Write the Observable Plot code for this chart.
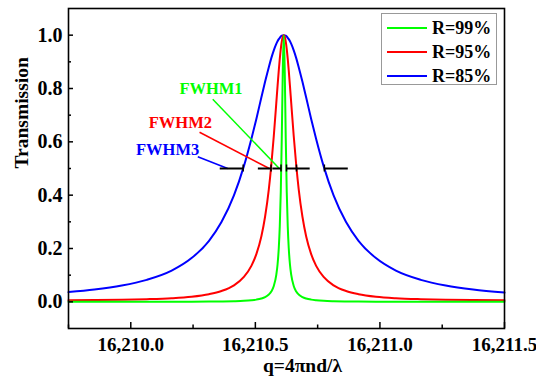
<!DOCTYPE html>
<html><head><meta charset="utf-8">
<script src="https://cdn.jsdelivr.net/npm/d3@7"></script>
<script src="https://cdn.jsdelivr.net/npm/@observablehq/plot@0.6"></script>
<style>
body{margin:0;background:#fff;}
#wrap{position:relative;width:536px;height:381px;font-family:"Liberation Serif","Times New Roman",serif;font-weight:bold;}
#wrap svg, #wrap svg text{font-family:"Liberation Serif","Times New Roman",serif !important;font-weight:bold;}
#legend{position:absolute;left:381px;top:13px;width:116px;height:72px;border:1px solid #999;background:#fff;box-sizing:border-box;}
.row{position:absolute;left:5px;height:24px;display:flex;align-items:center;font-size:18px;line-height:24px;color:#000;}
.row .ln{display:inline-block;width:40px;height:2px;margin-right:5px;}
</style></head><body><div id="wrap"></div>
<script>
// ---- data ----
const q = [16209.750,16209.854,16209.964,16210.064,16210.164,16210.244,16210.314,16210.364,16210.414,16210.454,16210.484,16210.504,16210.524,16210.539,16210.554,16210.564,16210.574,16210.584,16210.589,16210.594,16210.598,16210.602,16210.606,16210.610,16210.614,16210.618,16210.622,16210.626,16210.630,16210.634,16210.639,16210.644,16210.654,16210.664,16210.674,16210.689,16210.704,16210.724,16210.744,16210.774,16210.814,16210.864,16210.914,16210.984,16211.064,16211.164,16211.264,16211.374,16211.500];
const r99 = [0.0001,0.0002,0.0002,0.0003,0.0005,0.0007,0.0011,0.0016,0.0025,0.0039,0.0060,0.0083,0.0123,0.0176,0.0273,0.0388,0.0594,0.101,0.139,0.202,0.283,0.412,0.612,0.863,1.0,0.863,0.612,0.412,0.283,0.202,0.139,0.101,0.0594,0.0388,0.0273,0.0176,0.0123,0.0083,0.0060,0.0039,0.0025,0.0016,0.0011,0.0007,0.0005,0.0003,0.0002,0.0002,0.0001];
const r95 = [0.0060,0.0068,0.0080,0.0100,0.0135,0.0191,0.0286,0.0406,0.0619,0.0934,0.135,0.179,0.245,0.319,0.422,0.513,0.622,0.745,0.808,0.868,0.911,0.948,0.976,0.994,1.0,0.994,0.976,0.948,0.911,0.868,0.808,0.745,0.622,0.513,0.422,0.319,0.245,0.179,0.135,0.0934,0.0619,0.0406,0.0286,0.0191,0.0135,0.0100,0.0080,0.0068,0.0060];
const r85 = [0.0364,0.0459,0.0610,0.0824,0.117,0.164,0.229,0.299,0.399,0.509,0.611,0.686,0.766,0.825,0.880,0.914,0.943,0.967,0.977,0.985,0.990,0.995,0.998,0.999,1.0,0.999,0.998,0.995,0.990,0.985,0.977,0.967,0.943,0.914,0.880,0.825,0.766,0.686,0.611,0.509,0.399,0.299,0.229,0.164,0.117,0.0824,0.0610,0.0459,0.0348];
const seriesNames = ["R=99%","R=95%","R=85%"];
const seriesColors = ["#00ff00","#ff0000","#0000ff"];
const xMajor = [16210.0,16210.5,16211.0,16211.5];
const xMinor = [16209.75,16210.25,16210.75,16211.25];
const yMajor = [0.0,0.2,0.4,0.6,0.8,1.0];
const yMinor = [0.1,0.3,0.5,0.7,0.9];
const xTitle = "q=4πnd/λ";
const yTitle = "Transmission";
const fwhmLabels = ["FWHM1","FWHM2","FWHM3"];
const fwhmLeft = [16210.603,16210.563,16210.451];
const fwhmRight = [16210.625,16210.665,16210.777];
const fwhmOuterLeft = [16210.568,16210.510,16210.357];
const fwhmOuterRight = [16210.668,16210.718,16210.871];
const halfMax = 0.5;
const labelX = [16210.322,16210.199,16210.148];
const labelY = [0.799,0.670,0.572];
const leaderX1 = [16210.329,16210.276,16210.269];
const leaderY1 = [0.760,0.636,0.544];
const leaderX2 = [16210.596,16210.556,16210.389];

// ---- build tables ----
const seriesVals = [r99, r95, r85];
const rows = [];
[2,1,0].forEach(s => q.forEach((x,i) => rows.push({q:x, T:seriesVals[s][i], series:seriesNames[s]})));
const ann = fwhmLabels.map((l,i) => ({label:l, color:seriesColors[i], x:labelX[i], y:labelY[i],
  lx1:leaderX1[i], ly1:leaderY1[i], lx2:leaderX2[i], ly2:halfMax,
  left:fwhmLeft[i], right:fwhmRight[i], oL:fwhmOuterLeft[i], oR:fwhmOuterRight[i]}));
const caps = ann.flatMap(d => [d.left, d.right]);

const W = 536, H = 381, mt = 8, mr = 32, mb = 53, ml = 68;
const fw = W - ml - mr, fh = H - mt - mb;

const chart = Plot.plot({
  width: W, height: H, marginTop: mt, marginRight: mr, marginBottom: mb, marginLeft: ml,
  style: {fontSize: "18px", color: "#000", background: "#fff", overflow: "visible"},
  x: {domain: [16209.75, 16211.5]},
  y: {domain: [-0.1, 1.1]},
  color: {domain: seriesNames, range: seriesColors},
  marks: [
    Plot.line(rows, {x: "q", y: "T", z: "series", stroke: "series", strokeWidth: 2, curve: "monotone-x"}),
    Plot.link(ann, {x1: "lx1", y1: "ly1", x2: "lx2", y2: "ly2", stroke: "color", strokeWidth: 1.5}),
    Plot.link(ann, {x1: "oL", x2: "left", y1: () => halfMax, y2: () => halfMax, stroke: "#000", strokeWidth: 2}),
    Plot.link(ann, {x1: "right", x2: "oR", y1: () => halfMax, y2: () => halfMax, stroke: "#000", strokeWidth: 2}),
    Plot.ruleX(caps, {x: d => d, y1: () => halfMax, y2: () => halfMax, insetTop: -3.5, insetBottom: -3.5, stroke: "#000", strokeWidth: 1.5}),
    Plot.text(ann, {x: "x", y: "y", text: "label", fill: "color", fontSize: 16.5, fontWeight: "bold"}),
    Plot.frame({stroke: "#000", strokeWidth: 1.6}),
    Plot.tickX(xMajor, {x: d => d, insetTop: fh - 6, stroke: "#000", strokeWidth: 1.5}),
    Plot.tickX(xMinor, {x: d => d, insetTop: fh - 3.5, stroke: "#000", strokeWidth: 1.5}),
    Plot.tickY(yMajor, {y: d => d, insetRight: fw - 5, stroke: "#000", strokeWidth: 1.5}),
    Plot.tickY(yMinor, {y: d => d, insetRight: fw - 3, stroke: "#000", strokeWidth: 1.5}),
    Plot.axisX(xMajor, {tickSize: 0, tickPadding: 9, tickFormat: ",.1f", label: null, fontSize: 19, fontWeight: "bold"}),
    Plot.axisY(yMajor, {tickSize: 0, tickPadding: 6, tickFormat: ".1f", label: null, fontSize: 20, fontWeight: "bold"}),
    Plot.text([xTitle], {frameAnchor: "bottom", dx: 16, dy: 43, text: d => d, fontSize: 19.5, fontWeight: "bold"}),
    Plot.text([yTitle], {frameAnchor: "left", dx: -47, rotate: -90, text: d => d, fontSize: 19.5, fontWeight: "bold"})
  ]
});
const wrap = document.getElementById("wrap");
wrap.appendChild(chart);

// legend (inside the frame, top-right)
const leg = document.createElement("div");
leg.id = "legend";
seriesNames.forEach((n, i) => {
  const r = document.createElement("div");
  r.className = "row";
  r.style.top = (1.5 + i * 24) + "px";
  const l = document.createElement("span");
  l.className = "ln";
  l.style.background = seriesColors[i];
  r.appendChild(l);
  r.appendChild(document.createTextNode(n));
  leg.appendChild(r);
});
wrap.appendChild(leg);
</script></body></html>
